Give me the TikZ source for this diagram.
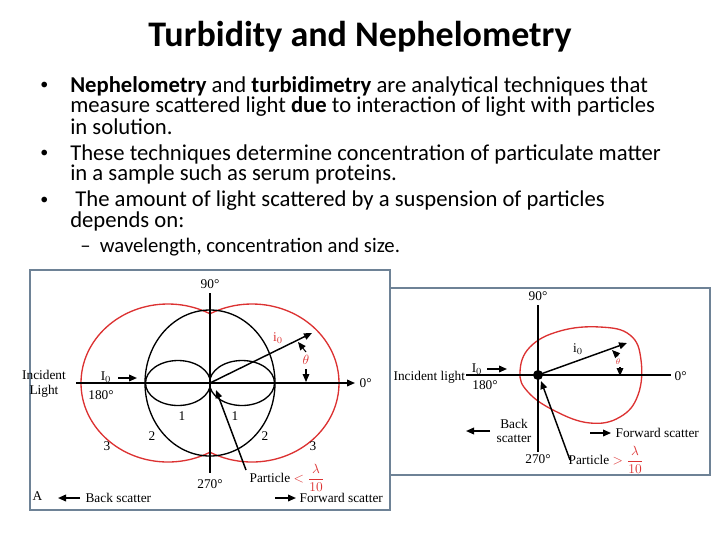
\documentclass[tikz,border=0pt]{standalone}
\usepackage{fontspec}
\setmainfont{Carlito}
\newfontfamily\dfont{Liberation Serif}
\usetikzlibrary{arrows.meta}
\definecolor{rd}{RGB}{220,50,50}
\definecolor{frm}{RGB}{110,130,150}
\tikzset{
  bt/.style={anchor=west,inner sep=0pt,font=\fontsize{17}{19}\selectfont},
  bl/.style={anchor=west,inner sep=0pt,font=\fontsize{12}{14}\selectfont},
  dl/.style={inner sep=1pt,font=\dfont\fontsize{10}{11}\selectfont},
  ax/.style={line width=1.1pt},
  ar/.style={line width=1.1pt,-{Triangle[length=6pt,width=5pt]}},
  crv/.style={line width=1pt},
  red/.style={line width=1pt,draw=rd}
}
\begin{document}
\begin{tikzpicture}[x=0.75pt,y=-0.75pt]
\useasboundingbox (0,0) rectangle (720,540);
\node[font=\fontsize{27}{30}\selectfont\bfseries] (title) at (360,37) {Turbidity and Nephelometry};
\node[bl] (b1) at (40,86) {•};
\node[bt] (l1) at (70,86) {\textbf{Nephelometry} and \textbf{turbidimetry} are analytical techniques that};
\node[bt] (l2) at (70,106) {measure scattered light \textbf{due} to interaction of light with particles};
\node[bt] (l3) at (70,127) {in solution.};
\node[bl] (b2) at (40,154) {•};
\node[bt] (l4) at (70,154) {These techniques determine concentration of particulate matter};
\node[bt] (l5) at (70,174) {in a sample such as serum proteins.};
\node[bl] (b3) at (40,201) {•};
\node[bt] (l6) at (70,201) {\ The amount of light scattered by a suspension of particles};
\node[bt] (l7) at (70,221) {depends on:};
\node[bt,font=\fontsize{15.5}{17}\selectfont] (l8) at (80,247) {–\ \ wavelength, concentration and size.};
% left panel
\draw[frm,line width=0.8pt] (30,270) rectangle (390,510);
\coordinate (c) at (210,383);
\begin{scope}
\clip (30,270) rectangle (210,510);
\draw[red] (168,383) ellipse [x radius=87, y radius=79];
\end{scope}
\begin{scope}
\clip (210,270) rectangle (390,510);
\draw[red] (252,383) ellipse [x radius=87, y radius=79];
\end{scope}
\draw[crv] (c) ellipse [x radius=65, y radius=73];
\draw[crv] (242,383) ellipse [x radius=32.5, y radius=22.5];
\draw[crv] (178,383) ellipse [x radius=32.5, y radius=22.5];
\coordinate (vt) at (210,293); \coordinate (vb) at (210,473);
\coordinate (hl) at (76,383); \coordinate (hr) at (355,383);
\draw[ax] (vt) -- (vb);
\draw[ar] (hl) -- (hr);
\node[dl] (n90) at (210,284) {90°};
\node[dl] (n270) at (210,484) {270°};
\node[dl,anchor=west] (n0) at (358,383) {0°};
\node[dl,align=center] (inc) at (44,384) {Incident\\Light};
\node[dl] (I0) at (106,377) {I$_0$};
\coordinate (ia1) at (118,378); \coordinate (ia2) at (137,378);
\draw[ar] (ia1) -- (ia2);
\node[dl] (n180) at (101,395) {180°};
\coordinate (tip) at (312,333);
\draw[ar] (c) -- (tip);
\node[dl,text=rd] (i0) at (278,338) {i$_0$};
\node[dl,text=rd] (th) at (306,360) {$\theta$};
\coordinate (t1a) at (306,352); \coordinate (t1b) at (298,342);
\coordinate (t2a) at (306,369); \coordinate (t2b) at (306,382);
\draw[ar,line width=0.8pt] (t1a) -- (t1b);
\draw[ar,line width=0.8pt] (t2a) -- (t2b);
\node[dl] (o1a) at (182,416) {1};
\node[dl] (o1b) at (235,416) {1};
\node[dl] (o2a) at (152,436) {2};
\node[dl] (o2b) at (265,436) {2};
\node[dl] (o3a) at (107,446) {3};
\node[dl] (o3b) at (313,446) {3};
\coordinate (pa) at (246,470); \coordinate (pb) at (216,390);
\draw[ar] (pa) -- (pb);
\node[dl,anchor=west] (part1) at (248,478) {Particle \textcolor{rd}{$<\displaystyle\frac{\lambda}{10}$}};
\node[dl,anchor=west] (A) at (31,496) {A};
\coordinate (bs1) at (80,498); \coordinate (bs2) at (58,498);
\draw[ar] (bs1) -- (bs2);
\node[dl,anchor=west] (bs) at (84,498) {Back scatter};
\coordinate (fs1) at (275,498); \coordinate (fs2) at (296,498);
\draw[ar] (fs1) -- (fs2);
\node[dl,anchor=west] (fs) at (298,498) {Forward scatter};
% right panel
\draw[frm,line width=0.8pt] (390,288) rectangle (710,475);
\coordinate (c2) at (538,375);
\draw[red] plot[smooth cycle,tension=0.7] coordinates {(520,372) (530,347) (560,331) (600,327) (630,335) (641,360) (638,395) (620,417) (590,423) (555,411) (528,392)};
\coordinate (v2t) at (538,305); \coordinate (v2b) at (538,452);
\coordinate (h2l) at (466,375); \coordinate (h2r) at (671,375);
\draw[ax] (v2t) -- (v2b);
\draw[ax] (h2l) -- (h2r);
\fill (c2) circle (5);
\node[dl] (m90) at (538,296) {90°};
\node[dl] (m270) at (538,459) {270°};
\node[dl,anchor=west] (m0) at (673,376) {0°};
\node[dl,anchor=west] (inc2) at (392,377) {Incident light};
\node[dl] (J0) at (477,369) {I$_0$};
\coordinate (ja1) at (487,369); \coordinate (ja2) at (507,369);
\draw[ar] (ja1) -- (ja2);
\node[dl] (m180) at (485,385) {180°};
\coordinate (tip2) at (627,343);
\draw[ar] (c2) -- (tip2);
\node[dl] (j0) at (578,349) {i$_0$};
\node[dl,text=rd,font=\dfont\fontsize{6}{7}\selectfont] (th2) at (618,362) {$\theta$};
\coordinate (s1a) at (618,356); \coordinate (s1b) at (612,350);
\coordinate (s2a) at (620,367); \coordinate (s2b) at (620,376);
\draw[ar,line width=0.8pt] (s1a) -- (s1b);
\draw[ar,line width=0.8pt] (s2a) -- (s2b);
\coordinate (qa) at (570,460); \coordinate (qb) at (541,381);
\draw[ar] (qa) -- (qb);
\node[dl,anchor=west] (part2) at (567,460) {Particle \textcolor{rd}{$>\displaystyle\frac{\lambda}{10}$}};
\coordinate (rb1) at (490,431); \coordinate (rb2) at (466,431);
\draw[ar] (rb1) -- (rb2);
\node[dl,align=center] (rbs) at (514,431) {Back\\scatter};
\coordinate (rf1) at (590,433); \coordinate (rf2) at (611,433);
\draw[ar] (rf1) -- (rf2);
\node[dl,anchor=west] (rfs) at (614,433) {Forward scatter};
\end{tikzpicture}
\end{document}
